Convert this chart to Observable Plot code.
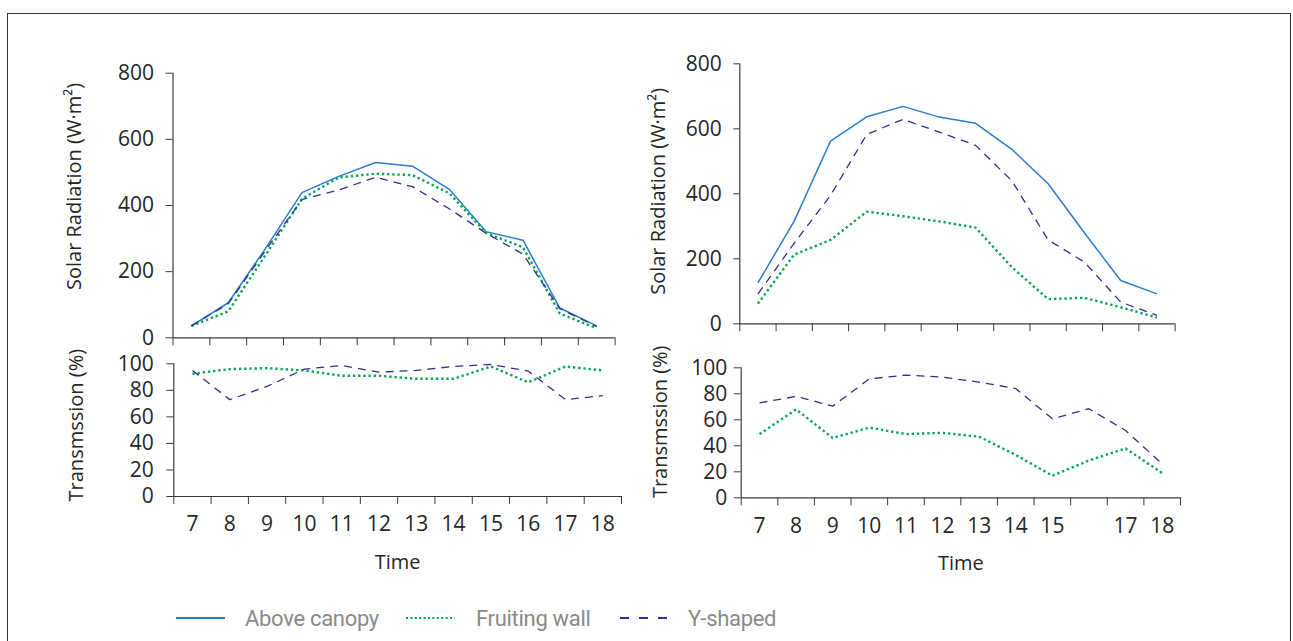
<!DOCTYPE html>
<html>
<head>
<meta charset="utf-8">
<script src="https://cdn.jsdelivr.net/npm/d3@7"></script>
<script src="https://cdn.jsdelivr.net/npm/@observablehq/plot@0.6"></script>
<style>
  html, body { margin: 0; padding: 0; background: #fff; overflow: hidden; }
  #wrap { position: relative; width: 1293px; height: 641px; overflow: hidden; background: #fff; }
  #border { position: absolute; left: 7px; top: 13px; width: 1284px; height: 700px; border: 1px solid #333; box-sizing: border-box; }
  #legend { position: absolute; left: 0; top: 604px; height: 28px; width: 1293px; font-family: Roboto, sans-serif; font-size: 22px; letter-spacing: -0.3px; color: #8a8a8a; }
  #legend .item { position: absolute; top: 0; height: 28px; display: flex; align-items: center; }
  #legend svg { position: absolute; top: 0; }
</style>
</head>
<body>
<div id="wrap">
  <div id="border"></div>
  <div id="legend"></div>
</div>
<script>
// ---- data ----
const hours = [7, 8, 9, 10, 11, 12, 13, 14, 15, 16, 17, 18];
const xLabelsLeft  = ["7", "8", "9", "10", "11", "12", "13", "14", "15", "16", "17", "18"];
const xLabelsRight = ["7", "8", "9", "10", "11", "12", "13", "14", "15", "", "17", "18"];
const radTicks = [0, 200, 400, 600, 800];
const transTicks = [0, 20, 40, 60, 80, 100];
const seriesNames = ["Above canopy", "Fruiting wall", "Y-shaped"];

// Left panel: solar radiation
const radAboveLeft = [36, 106, 268, 439, 488, 530, 519, 449, 321, 295, 90, 36];
const radFruitLeft = [36, 80, 248, 420, 485, 496, 492, 437, 317, 274, 73, 29];
const radYLeft     = [36, 103, 262, 418, 447, 485, 457, 390, 316, 253, 88, 34];
// Right panel: solar radiation
const radAboveRight = [126, 316, 562, 637, 669, 636, 617, 537, 431, 280, 133, 92];
const radFruitRight = [62, 213, 258, 345, 331, 315, 296, 174, 76, 80, 51, 19];
const radYRight     = [92, 248, 395, 583, 629, 590, 549, 440, 258, 190, 67, 26];
// Left panel: transmission
const transFruitLeft = [92.5, 96, 96.7, 95, 91, 91, 88.7, 88.7, 98, 86, 98, 95];
const transYLeft     = [95, 73, 83, 96, 98.7, 93.7, 95, 98, 99.5, 94.5, 73, 76];
// Right panel: transmission
const transFruitRight = [49, 68, 46, 54, 49, 50, 47, 33, 17, 28.7, 38, 19];
const transYRight     = [73, 78, 70.5, 91.5, 94.4, 92.8, 89, 84, 60.8, 68.5, 51.8, 26];

// ---- styles ----
const W = 1293, H = 641;
const axisColor = "#3a3a3a";
const textColor = "#262626";
const styles = {
  "Above canopy": {stroke: "#2a7dcc", strokeWidth: 1.5},
  "Fruiting wall": {stroke: "#00a651", strokeWidth: 2.4, strokeDasharray: "2.3 2.9"},
  "Y-shaped": {stroke: "#2e3192", strokeWidth: 1.3, strokeDasharray: "8 6"}
};
const bounds = hours.map(h => h - 0.5).concat([hours[hours.length - 1] + 0.5]);

function panel(o) {
  const marks = [
    Plot.ruleY([0], {stroke: axisColor, strokeWidth: 1.2}),
    Plot.ruleX([bounds[0]], {stroke: axisColor, strokeWidth: 1.2}),
    Plot.axisX({ticks: bounds, tickSize: 8, tickFormat: () => "", stroke: axisColor, label: null}),
    Plot.axisY({ticks: o.yTicks, tickSize: o.yTickSize, tickPadding: o.yTickPad, stroke: axisColor, fill: textColor, label: null, fontSize: 21}),
    ...o.series.map(s => Plot.line(s.values, {x: (d, i) => hours[i], y: d => d, ...styles[s.name], strokeLinecap: "butt"})),
    Plot.text([o.yLabel], {frameAnchor: "left", textAnchor: "middle", lineAnchor: "middle", rotate: -90, dx: o.yLabelDx, dy: o.yLabelDy, text: d => d, fontSize: 20, fill: textColor})
  ];
  if (o.xLabels) {
    marks.push(Plot.axisX({ticks: hours, tickSize: 0, tickPadding: 20, tickFormat: d => o.xLabels[hours.indexOf(d)], fill: textColor, label: null, fontSize: 21}));
    marks.push(Plot.text(["Time"], {frameAnchor: "bottom", lineAnchor: "middle", dy: 66, text: d => d, fontSize: 20, fill: textColor}));
  }
  const svg = Plot.plot({
    width: W, height: H,
    marginLeft: o.xl, marginRight: W - o.xr, marginTop: o.yt, marginBottom: H - o.yb,
    x: {domain: [bounds[0], bounds[bounds.length - 1]], label: null},
    y: {domain: [0, o.yMax], label: null},
    style: {background: "transparent", fontFamily: "'Open Sans', sans-serif", fontSize: "21px", color: textColor, overflow: "visible", maxWidth: "none"},
    marks
  });
  svg.style.position = "absolute";
  svg.style.left = "0px";
  svg.style.top = "0px";
  document.getElementById("wrap").appendChild(svg);
}

panel({xl: 172.5, xr: 614.6, yt: 72.7, yb: 337.3, yMax: 800, yTicks: radTicks, yTickSize: 7, yTickPad: 12,
  yLabel: "Solar Radiation (W·m²)", yLabelDx: -98, yLabelDy: -19,
  series: [{name: "Above canopy", values: radAboveLeft}, {name: "Fruiting wall", values: radFruitLeft}, {name: "Y-shaped", values: radYLeft}]});
panel({xl: 739.3, xr: 1174.6, yt: 63.3, yb: 323.3, yMax: 800, yTicks: radTicks, yTickSize: 6, yTickPad: 12,
  yLabel: "Solar Radiation (W·m²)", yLabelDx: -81.4, yLabelDy: -2.5,
  series: [{name: "Above canopy", values: radAboveRight}, {name: "Fruiting wall", values: radFruitRight}, {name: "Y-shaped", values: radYRight}]});
panel({xl: 173.3, xr: 621, yt: 363.3, yb: 496, yMax: 100, yTicks: transTicks, yTickSize: 7, yTickPad: 13,
  yLabel: "Transmssion (%)", yLabelDx: -97.3, yLabelDy: -5, xLabels: xLabelsLeft,
  series: [{name: "Fruiting wall", values: transFruitLeft}, {name: "Y-shaped", values: transYLeft}]});
panel({xl: 740.7, xr: 1180, yt: 367.3, yb: 497.3, yMax: 100, yTicks: transTicks, yTickSize: 7, yTickPad: 7,
  yLabel: "Transmssion (%)", yLabelDx: -81.1, yLabelDy: -11, xLabels: xLabelsRight,
  series: [{name: "Fruiting wall", values: transFruitRight}, {name: "Y-shaped", values: transYRight}]});

// ---- legend ----
const legend = document.getElementById("legend");
const legendPos = [{line: 176, text: 245}, {line: 406, text: 476}, {line: 620, text: 688}];
seriesNames.forEach((name, i) => {
  const s = styles[name];
  const ns = "http://www.w3.org/2000/svg";
  const svg = document.createElementNS(ns, "svg");
  svg.setAttribute("width", 50); svg.setAttribute("height", 28);
  svg.style.left = legendPos[i].line + "px";
  const ln = document.createElementNS(ns, "line");
  ln.setAttribute("x1", 0); ln.setAttribute("x2", 49); ln.setAttribute("y1", 14); ln.setAttribute("y2", 14);
  ln.setAttribute("stroke", s.stroke);
  ln.setAttribute("stroke-width", name === "Fruiting wall" ? 2.2 : 1.8);
  if (name === "Fruiting wall") ln.setAttribute("stroke-dasharray", "2 2.4");
  if (name === "Y-shaped") ln.setAttribute("stroke-dasharray", "9 10");
  svg.appendChild(ln);
  legend.appendChild(svg);
  const t = document.createElement("div");
  t.className = "item";
  t.style.left = legendPos[i].text + "px";
  t.textContent = name;
  legend.appendChild(t);
});
</script>
</body>
</html>
